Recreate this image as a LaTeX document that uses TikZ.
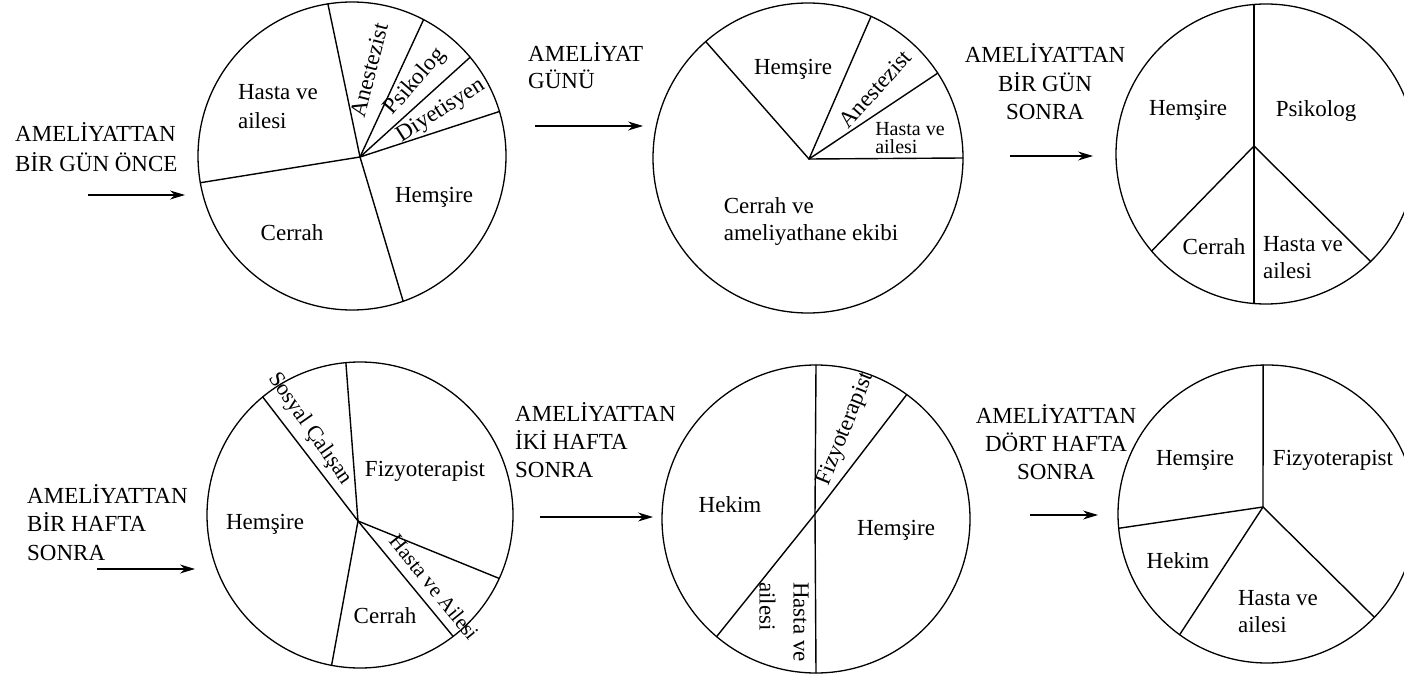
\documentclass[tikz,border=0pt]{standalone}
\usepackage{fontspec}
\setmainfont{Liberation Serif}
\usetikzlibrary{calc,arrows.meta}
\begin{document}
\begin{tikzpicture}[x=1pt,y=-1pt,
  pieline/.style={line width=1.4pt,line cap=round},
  rim/.style={line width=1.3pt},
  lbl/.style={inner sep=0pt,font=\fontsize{23}{29}\selectfont},
  lblsm/.style={inner sep=0pt,font=\fontsize{20}{18}\selectfont},
  stagetext/.style={inner sep=0pt,font=\fontsize{23}{29}\selectfont},
  stagearrow/.style={line width=1.2pt,-{Stealth[length=15pt,width=9pt]}}]
\clip (0,0) rectangle (1404,676);
\fill[white] (0,0) rectangle (1404,676);

% ---------- stage captions (anchored at the baseline of their last line) ----------
\node[stagetext,anchor=base west,align=left,font=\fontsize{23}{30}\selectfont] (t1) at (15,172) {AMELİYATTAN\\BİR GÜN ÖNCE};
\node[stagetext,anchor=base west,align=left,font=\fontsize{23}{27}\selectfont] (t2) at (528,89) {AMELİYAT\\GÜNÜ};
\node[stagetext,anchor=base,align=center,font=\fontsize{23}{28.5}\selectfont] (t3) at (1045,120) {AMELİYATTAN\\BİR GÜN\\SONRA};
\node[stagetext,anchor=base west,align=left,font=\fontsize{23}{28.5}\selectfont] (t4) at (27,560) {AMELİYATTAN\\BİR HAFTA\\SONRA};
\node[stagetext,anchor=base west,align=left,font=\fontsize{23}{28}\selectfont] (t5) at (515,477) {AMELİYATTAN\\İKİ HAFTA\\SONRA};
\node[stagetext,anchor=base,align=center,font=\fontsize{23}{28}\selectfont] (t6) at (1056,479) {AMELİYATTAN\\DÖRT HAFTA\\SONRA};

% ---------- arrows leading into each chart ----------
\coordinate (a1s) at (88,195);   \coordinate (a1e) at (185,195);
\coordinate (a2s) at (535,126);  \coordinate (a2e) at (643,126);
\coordinate (a3s) at (1010,156); \coordinate (a3e) at (1093,156);
\coordinate (a4s) at (97,569);   \coordinate (a4e) at (195,569);
\coordinate (a5s) at (540,517);  \coordinate (a5e) at (653,517);
\coordinate (a6s) at (1030,515); \coordinate (a6e) at (1098,515);
\foreach \i in {1,...,6} \draw[stagearrow] (a\i s) -- (a\i e);

% ---------- pie 1: one day before surgery ----------
\coordinate (c1) at (352,156); \coordinate (h1) at (360,157);
\draw[rim] (c1) circle (154);
\foreach \a [count=\i] in {-99,-62.3,-39.9,-16.8,70.6,170}
  {\coordinate (p1-\i) at ($(c1)+(\a:154)$); \draw[pieline] (h1) -- (p1-\i);}
\node[lbl,align=left] (l1a) at (278,107) {Hasta ve\\ailesi};
\node[lbl,rotate=75.5] (l1b) at (369,70) {Anestezist};
\node[lbl,rotate=49] (l1c) at (415,82) {Psikolog};
\node[lbl,rotate=32.5] (l1d) at (441,111) {Diyetisyen};
\node[lbl] (l1e) at (434,197) {Hemşire};
\node[lbl] (l1f) at (292,233) {Cerrah};

% ---------- pie 2: day of surgery ----------
\coordinate (c2) at (808,158); \coordinate (h2) at (809,159);
\draw[rim] (c2) circle (155);
\foreach \a [count=\i] in {-131.3,-66,-33.2,0}
  {\coordinate (p2-\i) at ($(c2)+(\a:155)$); \draw[pieline] (h2) -- (p2-\i);}
\node[lbl] (l2a) at (793,69) {Hemşire};
\node[lbl,rotate=48] (l2b) at (875,89) {Anestezist};
\node[lblsm,align=left] (l2c) at (910,138) {Hasta ve\\ailesi};
\node[lbl,align=left,font=\fontsize{23}{27}\selectfont] (l2d) at (811,222) {Cerrah ve\\ameliyathane ekibi};

% ---------- pie 3: one day after surgery ----------
\coordinate (c3) at (1266,154); \coordinate (h3) at (1254,146);
\draw[rim] (c3) circle (150);
\foreach \a [count=\i] in {-94.6,94.6,139.7,45.8}
  {\coordinate (p3-\i) at ($(c3)+(\a:150)$);}
\draw[pieline] (p3-1) -- (p3-2);
\draw[pieline] (h3) -- (p3-3);
\draw[pieline] (h3) -- (p3-4);
\node[lbl] (l3a) at (1188,110) {Hemşire};
\node[lbl] (l3b) at (1316,111) {Psikolog};
\node[lbl] (l3c) at (1214,247) {Cerrah};
\node[lbl,align=left,font=\fontsize{23}{27}\selectfont] (l3d) at (1303,258) {Hasta ve\\ailesi};

% ---------- pie 4: one week after surgery ----------
\coordinate (c4) at (360,515); \coordinate (h4) at (358,521);
\draw[rim] (c4) circle (153);
\foreach \a [count=\i] in {-95.3,-129.5,24.5,52.5,100.7}
  {\coordinate (p4-\i) at ($(c4)+(\a:153)$); \draw[pieline] (h4) -- (p4-\i);}
\node[lbl] (l4a) at (425,471) {Fizyoterapist};
\node[lbl] (l4b) at (265,524) {Hemşire};
\node[lbl] (l4c) at (385,616) {Cerrah};
\node[lbl,rotate=-55,font=\fontsize{22}{26}\selectfont] (l4d) at (310,429) {Sosyal Çalışan};
\node[lbl,rotate=-51,font=\fontsize{21}{25}\selectfont] (l4e) at (434,587) {Hasta ve Ailesi};

% ---------- pie 5: two weeks after surgery ----------
\coordinate (c5) at (816,519); \coordinate (h5) at (815,514);
\draw[rim] (c5) circle (154);
\foreach \a [count=\i] in {-90,90,-53.9,130.2}
  {\coordinate (p5-\i) at ($(c5)+(\a:154)$); \draw[pieline] (h5) -- (p5-\i);}
\node[lbl] (l5a) at (730,505) {Hekim};
\node[lbl] (l5b) at (896,530) {Hemşire};
\node[lbl,rotate=68] (l5c) at (846,429) {Fizyoterapist};
\node[lbl,rotate=-90,align=left,font=\fontsize{23}{34}\selectfont] (l5d) at (784,622) {Hasta ve\\ailesi};

% ---------- pie 6: four weeks after surgery ----------
\coordinate (c6) at (1267,514); \coordinate (h6) at (1263,507);
\draw[rim] (c6) circle (149);
\foreach \a [count=\i] in {-91.5,174.5,125.9,43.9}
  {\coordinate (p6-\i) at ($(c6)+(\a:149)$); \draw[pieline] (h6) -- (p6-\i);}
\node[lbl] (l6a) at (1195,460) {Hemşire};
\node[lbl] (l6b) at (1333,460) {Fizyoterapist};
\node[lbl] (l6c) at (1178,561) {Hekim};
\node[lbl,align=left,font=\fontsize{23}{27}\selectfont] (l6d) at (1278,612) {Hasta ve\\ailesi};
\end{tikzpicture}
\end{document}
